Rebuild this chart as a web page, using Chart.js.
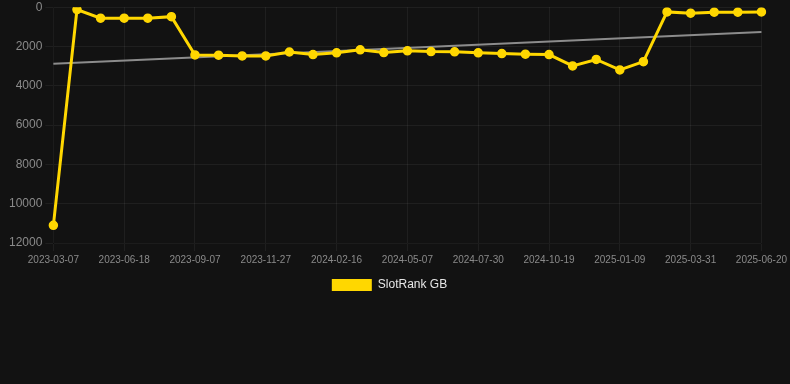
<!DOCTYPE html>
<html lang="en">
<head>
    <meta charset="UTF-8">
    <title>SlotRank GB</title>
    <script src="https://cdn.jsdelivr.net/npm/chart.js"></script>
    <style>
        html, body { margin: 0; padding: 0; background: #121212; }
        #wrap { width: 790px; height: 301px; }
    </style>
</head>
<body>
    <div id="wrap"><canvas id="rankChart"></canvas></div>

    <script>
        const dates = [
            '2023-03-07', '2023-04-25', '2023-05-22', '2023-06-18', '2023-07-15', '2023-08-11',
            '2023-09-07', '2023-10-04', '2023-10-31', '2023-11-27', '2023-12-24', '2024-01-20',
            '2024-02-16', '2024-03-14', '2024-04-10', '2024-05-07', '2024-06-04', '2024-07-02',
            '2024-07-30', '2024-08-26', '2024-09-22', '2024-10-19', '2024-11-15', '2024-12-13',
            '2025-01-09', '2025-02-05', '2025-03-04', '2025-03-31', '2025-04-27', '2025-05-24',
            '2025-06-20'
        ];
        const rankGB = [
            11100, 120, 560, 560, 560, 480,
            2430, 2440, 2480, 2480, 2280, 2410,
            2320, 2170, 2310, 2220, 2260, 2270,
            2320, 2360, 2390, 2410, 2990, 2660,
            3190, 2770, 240, 305, 255, 255,
            240
        ];
        // trend line, only its two ends are known
        const trend = dates.map(() => null);
        trend[0] = 2880;
        trend[dates.length - 1] = 1260;

        const yellow = '#ffd700';
        const tickColor = '#8a8a8a';
        const gridColor = 'rgba(255,255,255,0.06)';

        new Chart(document.getElementById('rankChart'), {
            type: 'line',
            data: {
                labels: dates,
                datasets: [{
                    label: 'SlotRank GB',
                    data: rankGB,
                    borderColor: yellow,
                    backgroundColor: yellow,
                    borderWidth: 3,
                    pointRadius: 4,
                    pointBorderWidth: 1.5,
                    pointHoverRadius: 5,
                    tension: 0,
                    fill: false
                }, {
                    label: 'trend',
                    data: trend,
                    borderColor: '#8c8c8c',
                    borderWidth: 2,
                    pointRadius: 0,
                    spanGaps: true,
                    fill: false
                }]
            },
            options: {
                responsive: true,
                maintainAspectRatio: false,
                animation: false,
                layout: { padding: { top: 0, left: 6, right: 17 } },
                plugins: {
                    legend: {
                        position: 'bottom',
                        labels: {
                            color: '#e6e6e6',
                            font: { size: 12 },
                            boxWidth: 40,
                            generateLabels: chart =>
                                Chart.defaults.plugins.legend.labels.generateLabels(chart)
                                    .filter(item => item.text !== 'trend')
                                    .map(item => Object.assign(item, { lineWidth: 0 }))
                        }
                    },
                    tooltip: { enabled: false }
                },
                scales: {
                    x: {
                        grid: { color: gridColor },
                        ticks: {
                            color: tickColor,
                            font: { size: 10 },
                            autoSkip: false,
                            maxRotation: 0,
                            // every third date, grid lines only there
                            callback: function (val, i) {
                                return i % 3 === 0 ? this.getLabelForValue(val) : null;
                            }
                        }
                    },
                    y: {
                        reverse: true,
                        min: 0,
                        max: 12000,
                        grid: { color: gridColor },
                        ticks: {
                            color: tickColor,
                            font: { size: 12, lineHeight: 0.7 },
                            stepSize: 2000,
                            callback: v => String(v)
                        }
                    }
                }
            }
        });
    </script>
</body>
</html>
